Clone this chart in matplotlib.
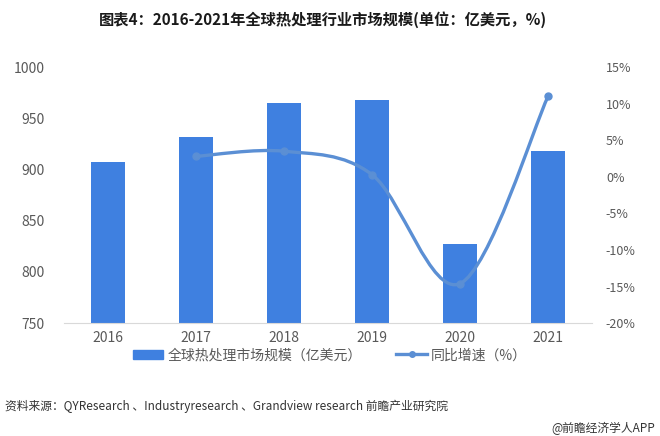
import numpy as np
import matplotlib.pyplot as plt
from matplotlib.path import Path
from matplotlib.patches import PathPatch
from matplotlib.lines import Line2D
from matplotlib.patches import Patch

plt.rcParams['font.family'] = ['Noto Sans CJK SC', 'DejaVu Sans']

# 数据
years = ['2016', '2017', '2018', '2019', '2020', '2021']
market = [907, 932, 965, 968, 827, 918]        # 亿美元
growth_years = ['2017', '2018', '2019', '2020', '2021']
growth = [2.8, 3.5, 0.3, -14.6, 11.0]          # %

bar_color = '#3f80e0'
line_color = '#5b8fd4'
tick_color = '#595959'

fig = plt.figure(figsize=(6.6, 4.36), dpi=100)
ax = fig.add_axes([0.097, 0.259, 0.8, 0.587])

x = np.arange(len(years))
ax.bar(x, market, width=0.39, color=bar_color, zorder=2)
ax.set_ylim(750, 1000)
ax.set_yticks(range(750, 1001, 50))
ax.set_xlim(-0.5, len(years) - 0.5)
ax.set_xticks(x)
ax.set_xticklabels(years)

for s in ['top', 'right', 'left']:
    ax.spines[s].set_visible(False)
ax.spines['bottom'].set_color('#d9d9d9')
ax.tick_params(axis='both', length=0, colors=tick_color, labelsize=10)
ax.tick_params(axis='y', pad=14)
ax.tick_params(axis='x', pad=6)

# 右轴 同比增速
ax2 = ax.twinx()
ax2.set_ylim(-20, 15)
ax2.set_yticks(range(-20, 16, 5))
ax2.set_yticklabels([f'{v}%' for v in range(-20, 16, 5)])
for s in ax2.spines.values():
    s.set_visible(False)
ax2.tick_params(axis='y', length=0, colors=tick_color, labelsize=9, pad=10)

gx = np.array([years.index(y) for y in growth_years], dtype=float)
gy = np.array(growth, dtype=float)

# 平滑曲线 (Catmull-Rom -> Bezier)
verts = [(gx[0], gy[0])]
codes = [Path.MOVETO]
n = len(gx)
for i in range(n - 1):
    p0 = (gx[i - 1], gy[i - 1]) if i > 0 else (gx[i], gy[i])
    p1 = (gx[i], gy[i])
    p2 = (gx[i + 1], gy[i + 1])
    p3 = (gx[i + 2], gy[i + 2]) if i + 2 < n else (gx[i + 1], gy[i + 1])
    c1 = (p1[0] + (p2[0] - p0[0]) / 6, p1[1] + (p2[1] - p0[1]) / 6)
    c2 = (p2[0] - (p3[0] - p1[0]) / 6, p2[1] - (p3[1] - p1[1]) / 6)
    verts += [c1, c2, p2]
    codes += [Path.CURVE4, Path.CURVE4, Path.CURVE4]
ax2.add_patch(PathPatch(Path(verts, codes), facecolor='none',
                        edgecolor=line_color, lw=2.4, zorder=3))
ax2.plot(gx, gy, 'o', color=line_color, ms=5, zorder=4)

# 标题
fig.text(0.49, 0.955, '图表4：2016-2021年全球热处理行业市场规模(单位：亿美元，%)',
         ha='center', va='center', fontsize=11, fontweight='bold', color='#1a1a1a')

# 图例
handles = [Patch(color=bar_color),
           Line2D([0], [0], color=line_color, lw=2.4, marker='o', ms=4)]
labels = ['全球热处理市场规模（亿美元）', '同比增速（%）']
fig.legend(handles, labels, loc='center', bbox_to_anchor=(0.5, 0.185), ncol=2,
           frameon=False, fontsize=10, handlelength=2.2, columnspacing=2.5,
           labelcolor=tick_color, handletextpad=0.3)

# 来源
fig.text(0.008, 0.067,
         '资料来源：QYResearch 、Industryresearch 、Grandview research 前瞻产业研究院',
         ha='left', va='center', fontsize=8.5, color='#333333')
fig.text(0.993, 0.018, '@前瞻经济学人APP', ha='right', va='center',
         fontsize=8.5, color='#333333')

fig.savefig('out.png', dpi=100)
